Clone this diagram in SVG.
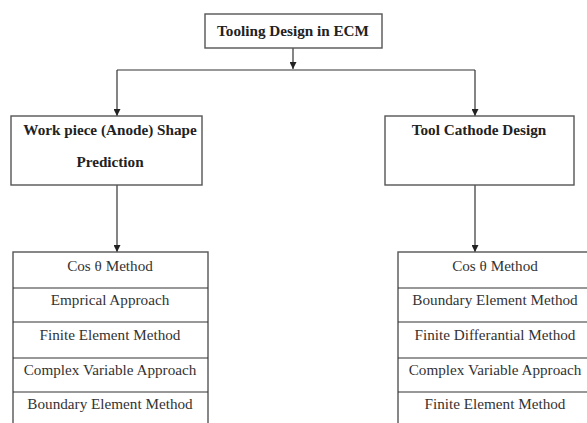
<svg xmlns="http://www.w3.org/2000/svg" width="587" height="423" viewBox="0 0 587 423">
<defs>
<marker id="arr" viewBox="0 0 10 10" refX="10" refY="5" markerWidth="7" markerHeight="7" orient="auto" markerUnits="userSpaceOnUse">
<path d="M0,0 L10,5 L0,10 z" fill="#222"/>
</marker>
<style>
.box{fill:#fff;stroke:#555;stroke-width:1.4}
.ln{fill:none;stroke:#333;stroke-width:1.2}
.hd{font-family:"Liberation Serif","Times New Roman",serif;font-weight:bold;font-size:15.2px;fill:#222;text-anchor:middle}
.it{font-family:"Liberation Serif","Times New Roman",serif;font-size:15.2px;fill:#333;text-anchor:middle}
</style>
</defs>
<rect width="587" height="423" fill="#fff"/>
<g id="connectors">
<line class="ln" x1="293" y1="48" x2="293" y2="69" marker-end="url(#arr)"/>
<line class="ln" x1="117" y1="70" x2="475" y2="70"/>
<line class="ln" x1="117" y1="70" x2="117" y2="116" marker-end="url(#arr)"/>
<line class="ln" x1="475" y1="70" x2="475" y2="116" marker-end="url(#arr)"/>
<line class="ln" x1="117" y1="185" x2="117" y2="252" marker-end="url(#arr)"/>
<line class="ln" x1="475" y1="185" x2="475" y2="252" marker-end="url(#arr)"/>
</g>
<g id="root">
<rect class="box" x="205" y="14" width="177" height="34"/>
<text class="hd" x="293" y="36">Tooling Design in ECM</text>
</g>
<g id="anode">
<rect class="box" x="11" y="116" width="191" height="69"/>
<text class="hd" x="110" y="135">Work piece (Anode) Shape</text>
<text class="hd" x="110" y="167">Prediction</text>
</g>
<g id="cathode">
<rect class="box" x="385" y="116" width="189" height="69"/>
<text class="hd" x="479" y="135">Tool Cathode Design</text>
</g>
<g id="anode-methods">
<rect class="box" x="13" y="252" width="195" height="180"/>
<line class="ln" x1="13" y1="288" x2="208" y2="288"/>
<line class="ln" x1="13" y1="322" x2="208" y2="322"/>
<line class="ln" x1="13" y1="358" x2="208" y2="358"/>
<line class="ln" x1="13" y1="392" x2="208" y2="392"/>
<text class="it" x="110" y="271">Cos θ Method</text>
<text class="it" x="110" y="305">Emprical Approach</text>
<text class="it" x="110" y="340">Finite Element Method</text>
<text class="it" x="110" y="375">Complex Variable Approach</text>
<text class="it" x="110" y="409">Boundary Element Method</text>
</g>
<g id="cathode-methods">
<rect class="box" x="398" y="252" width="194" height="180"/>
<line class="ln" x1="398" y1="288" x2="592" y2="288"/>
<line class="ln" x1="398" y1="322" x2="592" y2="322"/>
<line class="ln" x1="398" y1="358" x2="592" y2="358"/>
<line class="ln" x1="398" y1="392" x2="592" y2="392"/>
<text class="it" x="495" y="271">Cos θ Method</text>
<text class="it" x="495" y="305">Boundary Element Method</text>
<text class="it" x="495" y="340">Finite Differantial Method</text>
<text class="it" x="495" y="375">Complex Variable Approach</text>
<text class="it" x="495" y="409">Finite Element Method</text>
</g>
</svg>
